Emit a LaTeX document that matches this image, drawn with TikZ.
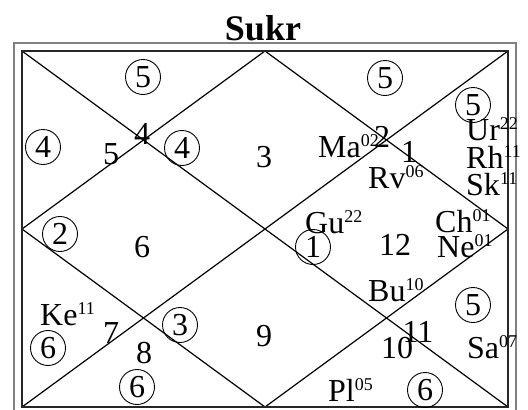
\documentclass[tikz,border=0pt]{standalone}
\usepackage{fontspec}
\setmainfont{Liberation Serif}
\newcommand\sps[1]{\raisebox{11pt}{\fontsize{18}{18}\selectfont#1}}
\tikzset{
  big/.style={font=\fontsize{32}{32}\selectfont},
  num/.style={big, inner sep=0pt, anchor=center},
  cnum/.style={big, circle, draw, line width=0.9pt, minimum size=35pt, inner sep=0pt},
  plab/.style={big, inner sep=0pt, anchor=base west},
  diag/.style={line width=1.2pt, black},
}
\begin{document}
\begin{tikzpicture}[x=1pt, y=-1pt]
\useasboundingbox (0,0) rectangle (528,410);
\clip (0,0) rectangle (528,410);
\fill[white] (0,0) rectangle (528,410);
% title
\node[font=\fontsize{36}{36}\selectfont\bfseries, inner sep=0pt, anchor=base] (title) at (263,40) {Sukr};
% frames
\draw[line width=2pt, black!50] (14,43) rectangle (516,420);
\coordinate (tl) at (22,51);
\coordinate (tr) at (508,51);
\coordinate (br) at (508,407);
\coordinate (bl) at (22,407);
\coordinate (tm) at (265,51);
\coordinate (rm) at (508,229);
\coordinate (bm) at (265,407);
\coordinate (lm) at (22,229);
\draw[diag] (tl) -- (br);
\draw[diag] (tr) -- (bl);
\draw[diag] (tm) -- (rm) -- (bm) -- (lm) -- cycle;
\draw[line width=2pt, black!85] (tl) rectangle (br);
% circled numbers
\node[cnum] (c5a) at (143,77) {5};
\node[cnum] (c4a) at (43,147) {4};
\node[cnum] (c4b) at (182,148) {4};
\node[cnum] (c5b) at (385,78) {5};
\node[cnum] (c5c) at (473,105) {5};
\node[cnum] (c2) at (60,234) {2};
\node[cnum] (c1) at (313,247) {1};
\node[cnum] (c3) at (180,325) {3};
\node[cnum] (c6a) at (48,348) {6};
\node[cnum] (c6b) at (137,387) {6};
\node[cnum] (c5d) at (473,305) {5};
\node[cnum] (c6c) at (425,390) {6};
% house numbers
\node[num] (n4) at (142,134) {4};
\node[num] (n5) at (111,154) {5};
\node[num] (n3) at (264,157) {3};
\node[num] (n2) at (382,137) {2};
\node[num] (n1) at (409,152) {1};
\node[num] (n6) at (142,247) {6};
\node[num] (n12) at (395,245) {12};
\node[num] (n7) at (111,333) {7};
\node[num] (n8) at (144,353) {8};
\node[num] (n9) at (264,336) {9};
\node[num] (n11) at (418,332) {11};
\node[num] (n10) at (397,348) {10};
% planets
\node[plab] (ma) at (318,157) {Ma\sps{02}};
\node[plab] (rv) at (368,188) {Rv\sps{06}};
\node[plab] (ur) at (466,140) {Ur\sps{22}};
\node[plab] (rh) at (466,168) {Rh\sps{11}};
\node[plab] (sk) at (466,195) {Sk\sps{11}};
\node[plab] (gu) at (305,233) {Gu\sps{22}};
\node[plab] (ch) at (435,232) {Ch\sps{01}};
\node[plab] (ne) at (437,257) {Ne\sps{01}};
\node[plab] (bu) at (368,301) {Bu\sps{10}};
\node[plab] (sa) at (467,358) {Sa\sps{07}};
\node[plab] (pl) at (328,401) {Pl\sps{05}};
\node[plab] (ke) at (40,325) {Ke\sps{11}};
\end{tikzpicture}
\end{document}
